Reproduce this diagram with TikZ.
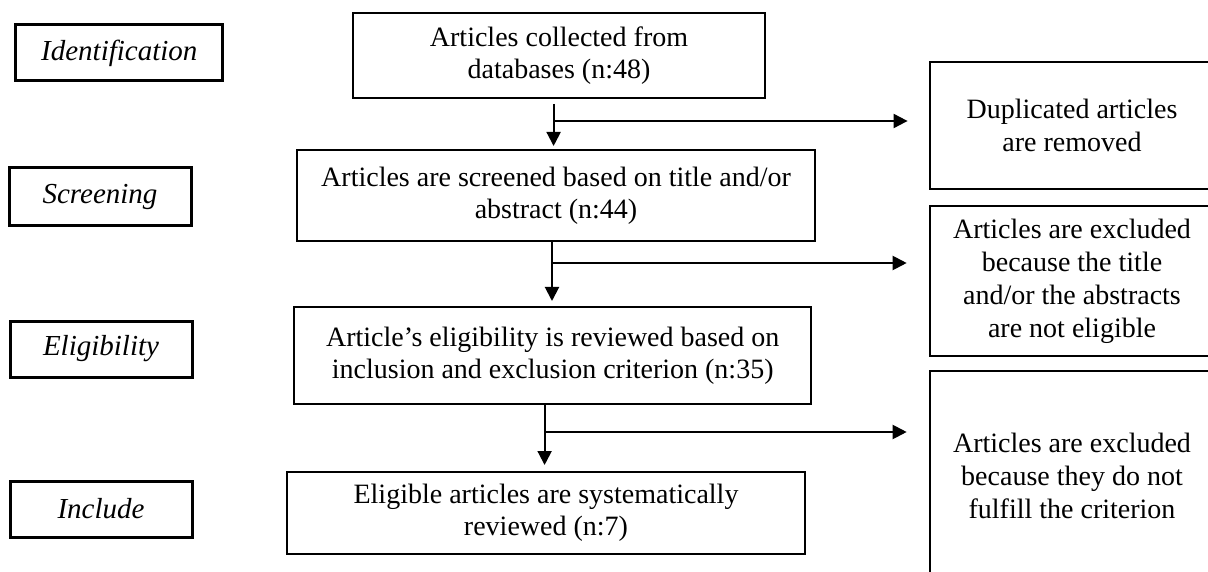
\documentclass[tikz,border=0pt]{standalone}
\usepackage{fontspec}
\setmainfont{Liberation Serif}
\usetikzlibrary{arrows.meta}
\tikzset{
  mainbox/.style={draw, line width=2pt, align=center, inner sep=0pt, font=\fontsize{28}{32}\selectfont},
  sidebox/.style={draw, line width=2pt, align=center, inner sep=0pt, font=\fontsize{28}{33}\selectfont},
  labelbox/.style={draw, line width=3pt, align=center, inner sep=0pt, font=\fontsize{29}{33}\selectfont\itshape},
  connline/.style={line width=2pt},
  arr/.style={line width=2pt, -{Triangle[length=14pt,width=14pt]}}
}
\begin{document}
\begin{tikzpicture}[x=1pt,y=-1pt]
\useasboundingbox (0,0) rectangle (1208,572);
\clip (0,0) rectangle (1208,572);
% stage labels
\node[labelbox, minimum width=207pt, minimum height=56pt] (ident) at (119.3,53) {Identification};
\node[labelbox, minimum width=182pt, minimum height=58pt] (screen) at (100,197) {Screening};
\node[labelbox, minimum width=182pt, minimum height=56pt] (elig) at (101,349) {Eligibility};
\node[labelbox, minimum width=182pt, minimum height=56pt] (incl) at (101,509) {Include};
% main boxes
\node[mainbox, minimum width=412pt, minimum height=85pt] (b1) at (559,55.5) {Articles collected from\\databases (n:48)};
\node[mainbox, minimum width=518pt, minimum height=91pt] (b2) at (556,195.5) {Articles are screened based on title and/or\\abstract (n:44)};
\node[mainbox, minimum width=517.5pt, minimum height=97pt] (b3) at (552.7,355.5) {Article’s eligibility is reviewed based on\\inclusion and exclusion criterion (n:35)};
\node[mainbox, minimum width=518pt, minimum height=82pt] (b4) at (546,513) {Eligible articles are systematically\\reviewed (n:7)};
% side boxes
\node[sidebox, minimum width=284pt, minimum height=127pt] (r1) at (1072,125.5) {Duplicated articles\\are removed};
\node[sidebox, minimum width=284pt, minimum height=150pt] (r2) at (1072,281) {Articles are excluded\\because the title\\and/or the abstracts\\are not eligible};
\node[sidebox, minimum width=284pt, minimum height=210pt] (r3) at (1072,476) {Articles are excluded\\because they do not\\fulfill the criterion};
% junctions
\coordinate (j1) at (553.6,121);
\coordinate (j2) at (552,263);
\coordinate (j3) at (544.6,432);
% connectors
\draw[arr] ([yshift=-5pt]b1.south -| j1) -- ([yshift=3pt]b2.north -| j1);
\draw[arr] (j1) -- ([xshift=-21.4pt]r1.west |- j1);
\draw[arr] (b2.south -| j2) -- ([yshift=5pt]b3.north -| j2);
\draw[arr] (j2) -- ([xshift=-22.3pt]r2.west |- j2);
\draw[arr] (b3.south -| j3) -- ([yshift=6pt]b4.north -| j3);
\draw[arr] (j3) -- ([xshift=-22.3pt]r3.west |- j3);
\end{tikzpicture}
\end{document}
